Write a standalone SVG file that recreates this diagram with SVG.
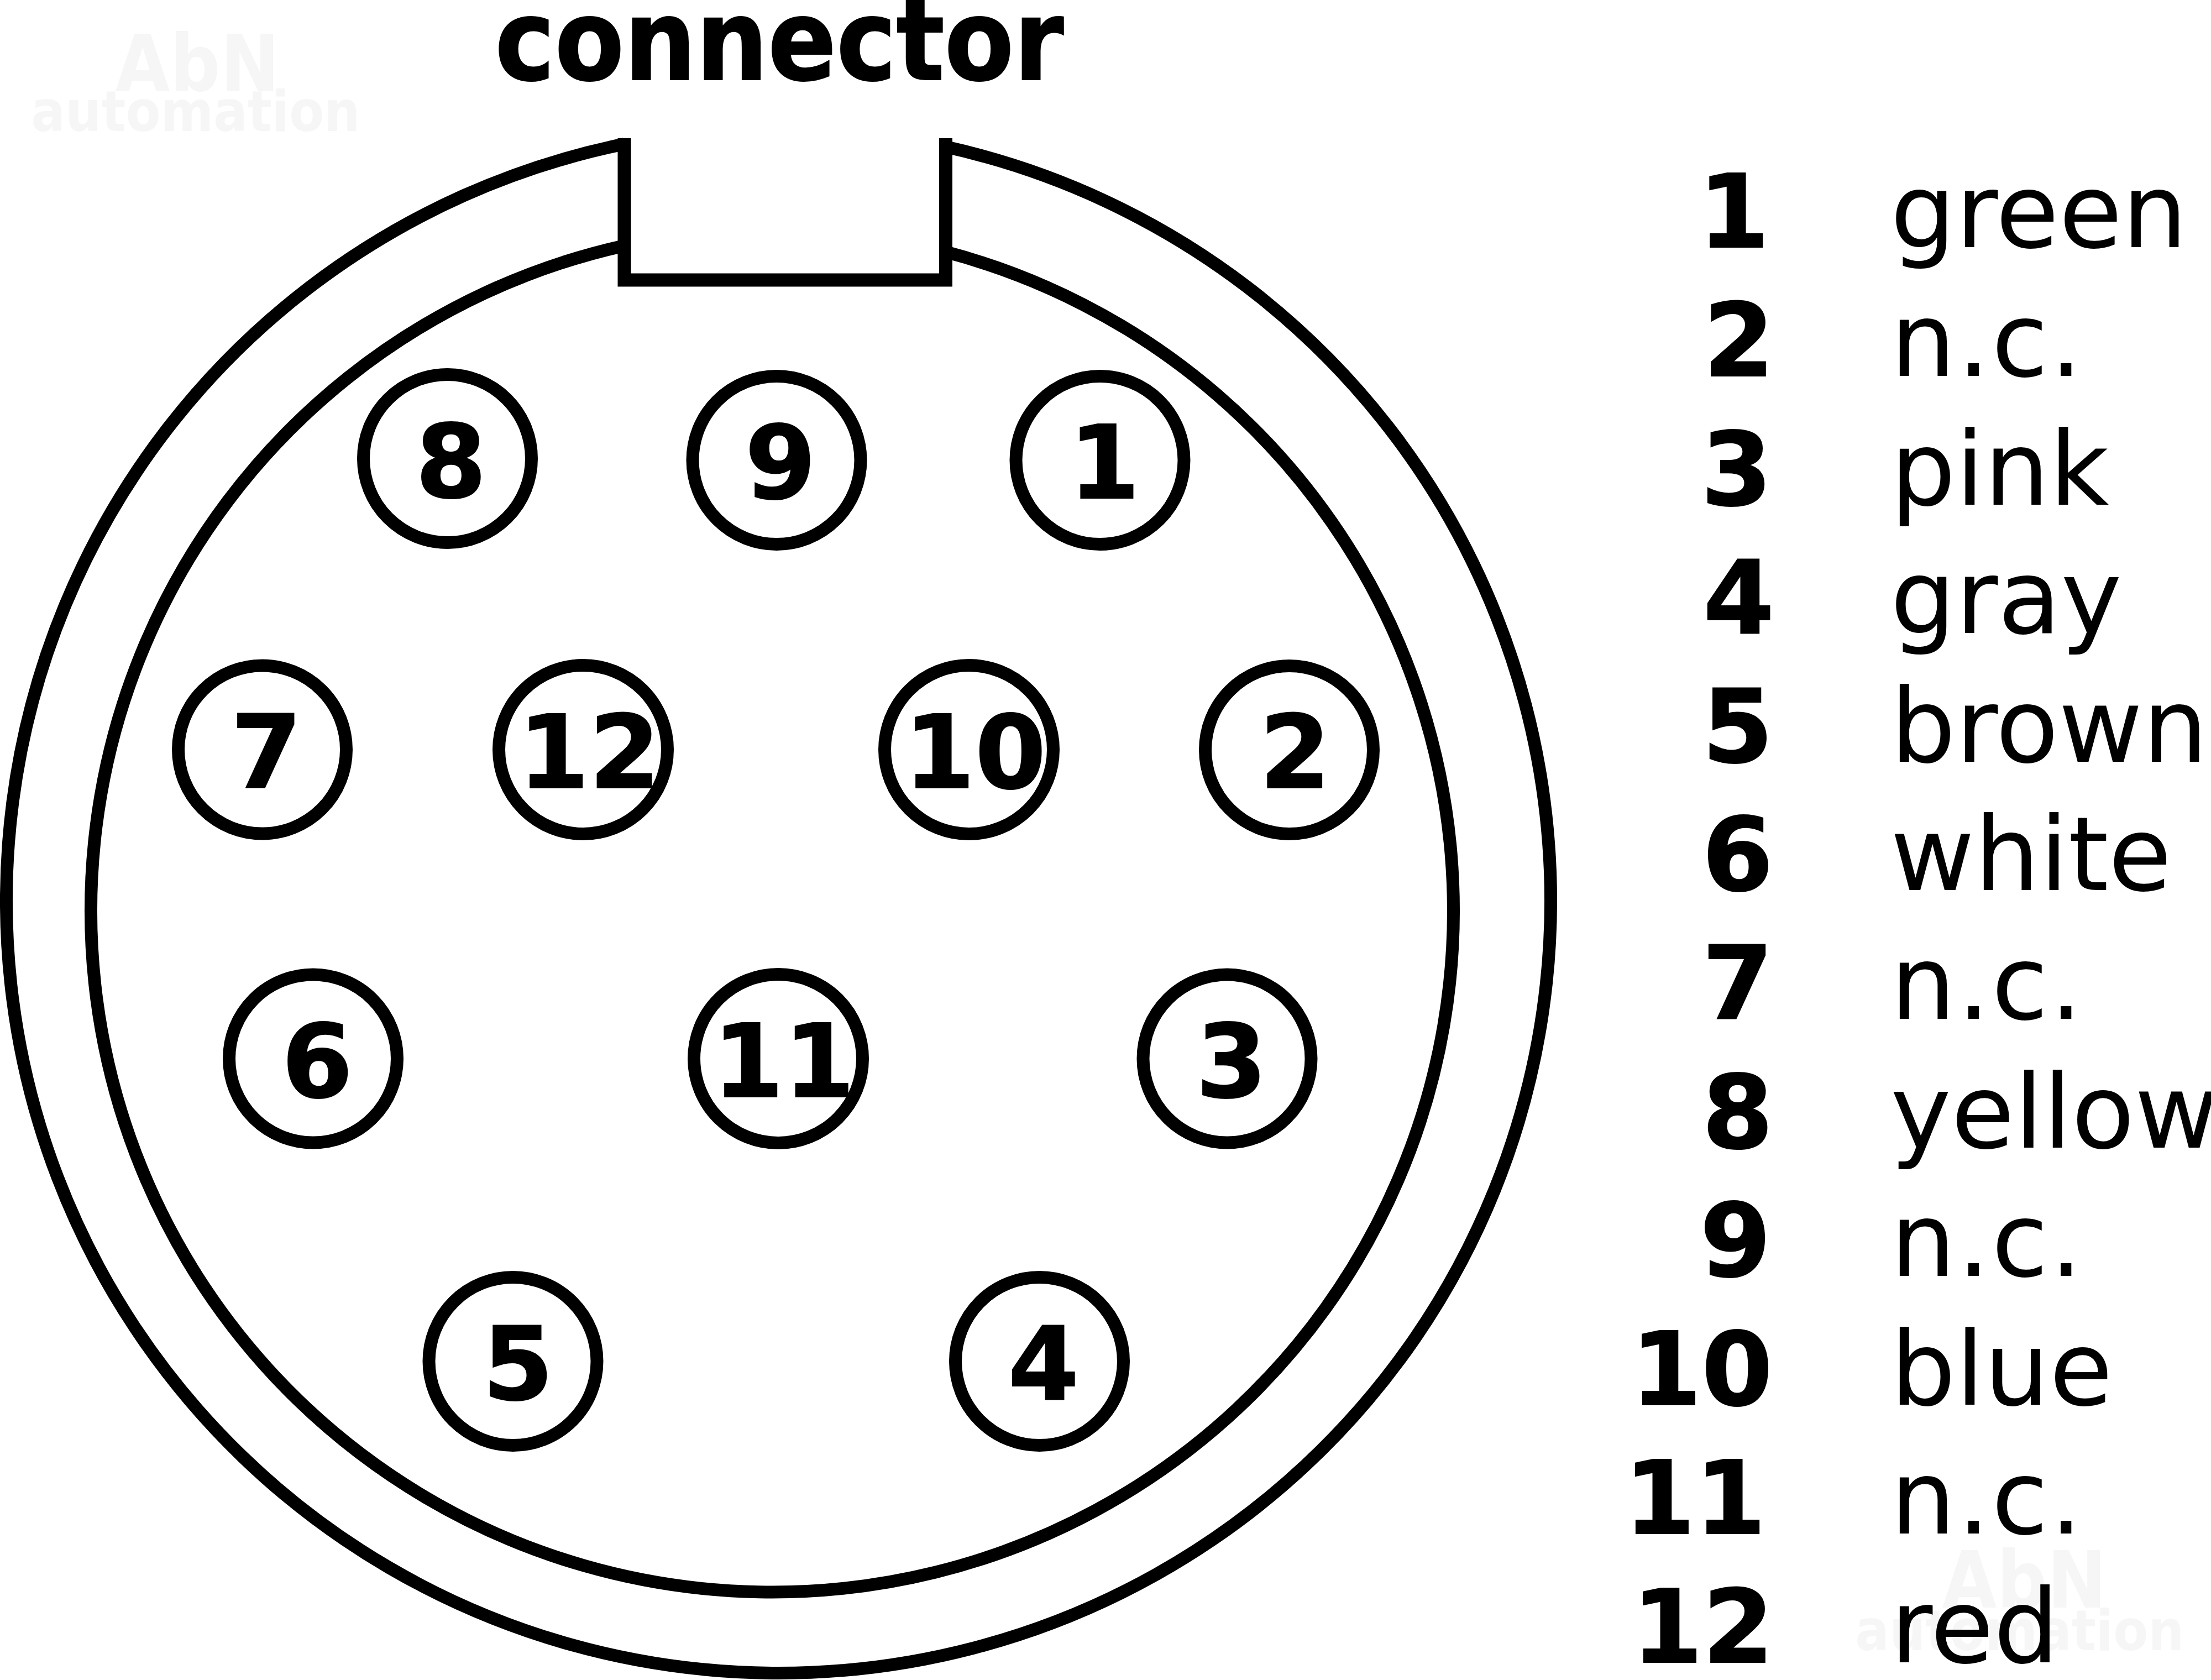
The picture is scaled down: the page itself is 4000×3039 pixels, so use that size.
<svg xmlns="http://www.w3.org/2000/svg" width="4000" height="3039" viewBox="0 0 4000 3039">
<style>
text{font-family:"DejaVu Sans","Liberation Sans",sans-serif}
.pin{fill:none;stroke:#000;stroke-width:23}
.body{fill:none;stroke:#000;stroke-width:23}
.notch{fill:none;stroke:#000;stroke-width:24}
.n{font-size:184.5px;font-weight:700;text-anchor:middle;stroke:#000;stroke-width:2}
.ln{font-size:184.5px;font-weight:700;text-anchor:end;stroke:#000;stroke-width:2}
.lb{font-size:186px}
.nc{letter-spacing:3px}
.wm{fill:#f6f6f6;font-weight:700;text-anchor:middle;font-stretch:condensed}
</style>
<rect width="4000" height="3039" fill="#fff"/>
<g id="watermarks">
<text class="wm" x="357" y="165" font-size="142">AbN</text>
<text class="wm" x="354" y="237" font-size="102">automation</text>
<text class="wm" x="3662" y="2908" font-size="142">AbN</text>
<text class="wm" x="3654" y="2985" font-size="102">automation</text>
</g>
<g id="title"><text x="1410" y="144" font-size="203" font-weight="700" text-anchor="middle" style="font-stretch:condensed;stroke:#000;stroke-width:2">connector</text></g>
<g id="housing">
<path class="body" d="M1129.5,260.6 A1397,1397 0 1 0 1711,265.6"/>
<path class="body" d="M1129.5,444.4 A1232.5,1232.5 0 1 0 1711,455.7"/>
<path class="notch" d="M1129.5,250 V506.5 H1711 V250"/>
</g>
<g id="pin8"><circle class="pin" cx="809.5" cy="829.5" r="152"/><text class="n" x="816" y="899">8</text></g>
<g id="pin9"><circle class="pin" cx="1405" cy="832.5" r="152"/><text class="n" x="1412" y="901">9</text></g>
<g id="pin1"><circle class="pin" cx="1990" cy="832.5" r="152"/><text class="n" x="1998" y="901">1</text></g>
<g id="pin7"><circle class="pin" cx="474.5" cy="1356" r="152"/><text class="n" x="482" y="1425">7</text></g>
<g id="pin12"><circle class="pin" cx="1055" cy="1356" r="152.5"/><text class="n" x="1066" y="1425">12</text></g>
<g id="pin10"><circle class="pin" cx="1753" cy="1356" r="152.5"/><text class="n" x="1764" y="1425">10</text></g>
<g id="pin2"><circle class="pin" cx="2332.5" cy="1356.5" r="152"/><text class="n" x="2343" y="1425">2</text></g>
<g id="pin6"><circle class="pin" cx="566.5" cy="1915" r="152"/><text class="n" x="574" y="1984">6</text></g>
<g id="pin11"><circle class="pin" cx="1408" cy="1915" r="152.5"/><text class="n" x="1418" y="1984">11</text></g>
<g id="pin3"><circle class="pin" cx="2220" cy="1915" r="152"/><text class="n" x="2228" y="1984">3</text></g>
<g id="pin5"><circle class="pin" cx="928" cy="2462.5" r="152"/><text class="n" x="937" y="2531">5</text></g>
<g id="pin4"><circle class="pin" cx="1880.5" cy="2462.5" r="152"/><text class="n" x="1888" y="2531">4</text></g>
<g id="legend">
<text class="ln" x="3201" y="447">1</text><text class="lb" x="3420" y="447">green</text>
<text class="ln" x="3210" y="680">2</text><text class="lb nc" x="3420" y="680">n.c.</text>
<text class="ln" x="3206" y="913">3</text><text class="lb" x="3420" y="913">pink</text>
<text class="ln" x="3210" y="1145">4</text><text class="lb" x="3420" y="1145">gray</text>
<text class="ln" x="3208" y="1378">5</text><text class="lb" x="3420" y="1378">brown</text>
<text class="ln" x="3208" y="1610">6</text><text class="lb" x="3420" y="1610">white</text>
<text class="ln" x="3208" y="1843">7</text><text class="lb nc" x="3420" y="1843">n.c.</text>
<text class="ln" x="3208" y="2076">8</text><text class="lb" x="3420" y="2076">yellow</text>
<text class="ln" x="3204" y="2308">9</text><text class="lb nc" x="3420" y="2308">n.c.</text>
<text class="ln" x="3207" y="2541">10</text><text class="lb" x="3420" y="2541">blue</text>
<text class="ln" x="3195" y="2774">11</text><text class="lb nc" x="3420" y="2774">n.c.</text>
<text class="ln" x="3209" y="3007">12</text><text class="lb" x="3420" y="3007">red</text>
</g>
</svg>
